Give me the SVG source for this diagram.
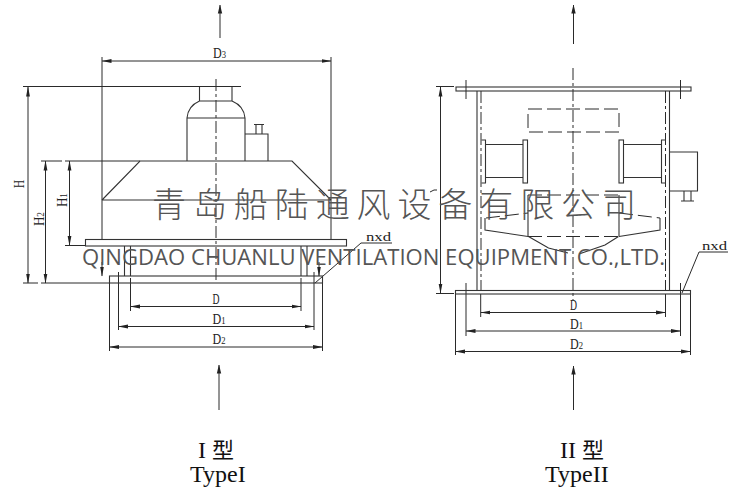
<svg xmlns="http://www.w3.org/2000/svg" width="743" height="498" viewBox="0 0 743 498">
<style>
.l{fill:none;stroke:#2a2a2a;stroke-width:1}
.t{fill:none;stroke:#333;stroke-width:1.1}
.d{fill:none;stroke:#2a2a2a;stroke-width:1;stroke-dasharray:12 3 3 3}
.da{fill:none;stroke:#2a2a2a;stroke-width:1;stroke-dasharray:14 5}
.s{font-family:"Liberation Serif",serif;font-size:14px;fill:#222}
.n{font-family:"Liberation Serif",serif;font-size:13px;fill:#222}
.c{font-family:"Liberation Serif","Noto Sans CJK SC",serif;font-size:24px;fill:#111}
.w{font-family:"Noto Sans CJK SC",sans-serif;font-size:34px;fill:#555;font-weight:300}
.e{font-family:"Open Sans",sans-serif;font-size:21px;fill:#555}
</style>
<defs>
<marker id="a" markerWidth="9" markerHeight="6" refX="8.5" refY="3" orient="auto-start-reverse" markerUnits="userSpaceOnUse"><path d="M0 .8L9 3L0 5.2Z" fill="#222"/></marker>
<marker id="b" markerWidth="10" markerHeight="7" refX="9.5" refY="3.5" orient="auto-start-reverse" markerUnits="userSpaceOnUse"><path d="M0 1.6L10 3.5L0 5.4Z" fill="#222"/></marker>
</defs>
<rect width="743" height="498" fill="#fff"/>
<g id="connectors">
<path class="l" marker-end="url(#a)" d="M220 38V5"/>
<path class="l" marker-end="url(#a)" d="M219 410V365"/>
<path class="l" marker-start="url(#b)" marker-end="url(#b)" d="M102 61H331"/>
<path class="l" d="M102 57V239M331 57V239"/>
<path class="l" d="M23 86.500H241"/>
<path class="l" d="M23 283H38M41 283H110"/>
<path class="l" marker-start="url(#b)" marker-end="url(#b)" d="M28 87V283"/>
<path class="l" marker-start="url(#b)" marker-end="url(#b)" d="M45.500 161V283"/>
<path class="l" d="M41 161H62M65 161H140"/>
<path class="l" marker-start="url(#b)" marker-end="url(#b)" d="M69.500 161V245.500"/>
<path class="l" d="M65 245.500H85"/>
<path class="l" marker-start="url(#b)" marker-end="url(#b)" d="M130.500 306.500H301"/>
<path class="l" marker-start="url(#b)" marker-end="url(#b)" d="M118.500 326.500H314"/>
<path class="l" marker-start="url(#b)" marker-end="url(#b)" d="M109.500 347H322.500"/>
<path class="l" d="M130.500 278V311M301 278V311M118.500 272V330M314 272V330M109.500 283V351M322.500 283V351"/>
<path class="l" marker-end="url(#b)" d="M102 262V276"/>
<path class="l" marker-end="url(#b)" d="M319 262V276"/>
<path class="l" d="M315 283L361 243H392"/>
<path class="l" marker-end="url(#a)" d="M573.500 44V5"/>
<path class="l" marker-end="url(#a)" d="M573.500 410V366"/>
<path class="l" d="M436 86.500H454M436 293.500H454"/>
<path class="l" marker-start="url(#b)" marker-end="url(#b)" d="M440.500 87V293"/>
<path class="l" marker-start="url(#b)" marker-end="url(#b)" d="M480.700 312.500H665.500"/>
<path class="l" marker-start="url(#b)" marker-end="url(#b)" d="M466 331H680.500"/>
<path class="l" marker-start="url(#b)" marker-end="url(#b)" d="M455.500 351.500H690.500"/>
<path class="l" d="M480.700 294V317M665.500 294V317M466 283V336M680.500 283V336M455.500 294V355M690.500 294V355"/>
<path class="l" d="M682 293L699 252H728"/>
<path class="l" d="M430 192L434 190H437"/>
</g>
<g id="type1">
<path class="d" d="M216 79V283"/>
<path class="t" d="M199.500 87V101H232V87M199.500 101Q188 106 187 118V161M232 101Q244 106 245 118V161M187 118H245"/>
<path class="t" d="M245 134H268V161M254 124.500H264M256 124.500V134M262 124.500V134"/>
<path class="t" d="M102 200L140 161H292L331 200M102 200H331"/>
<rect class="t" x="85.500" y="239.500" width="261" height="6.500"/>
<path class="t" d="M124.500 246V276M130.500 246V276M301 246V276M307 246V276"/>
<rect class="t" x="109.500" y="276" width="213" height="7"/>
</g>
<g id="type2">
<path class="d" d="M573 68V300"/>
<rect class="t" x="456" y="87" width="235" height="4"/>
<rect class="t" x="455.500" y="290.500" width="235" height="3.500"/>
<path class="l" d="M466 80V99M680.500 80V99"/>
<path class="t" d="M477 91V290M669.500 91V290"/>
<path class="d" d="M481 91V290M665.500 91V290"/>
<rect class="da" x="528" y="109" width="91" height="23"/>
<path class="t" d="M481.500 140H485.500V183H481.500M485.500 144.500H523M485.500 177.500H523"/>
<rect class="t" x="523" y="140" width="4.500" height="43"/>
<rect class="t" x="619" y="140" width="4.500" height="43"/>
<path class="t" d="M623.500 144.500H661M623.500 177.500H661M666 140H661.500V183H666"/>
<path class="t" d="M669.500 152H697.500V191H669.500M684 191V201M691 191V201M681 201H694"/>
<path class="da" d="M528 195H619"/>
<path class="t" d="M528 195V236M619 195V236"/>
<path class="da" d="M486 218L528 213M619 213L660 218"/>
<path class="t" d="M485 218V230L528 236.500M660 218V230L619 236.500"/>
<path class="da" d="M528 236.500H619"/>
<path class="t" d="M528.500 236.500L548.500 248L568 253M618.500 236.500L605 245L579 254"/>
</g>
<g id="labels">
<text class="s" x="213" y="58" textLength="13" lengthAdjust="spacingAndGlyphs">D<tspan font-size="10">3</tspan></text>
<text class="s" transform="translate(24 184) rotate(-90)" text-anchor="middle" textLength="8" lengthAdjust="spacingAndGlyphs">H</text>
<text class="s" transform="translate(44 219) rotate(-90)" text-anchor="middle" textLength="14" lengthAdjust="spacingAndGlyphs">H<tspan font-size="10">2</tspan></text>
<text class="s" transform="translate(67 200) rotate(-90)" text-anchor="middle" textLength="14" lengthAdjust="spacingAndGlyphs">H<tspan font-size="10">1</tspan></text>
<text class="s" x="212.500" y="304" textLength="7" lengthAdjust="spacingAndGlyphs">D</text>
<text class="s" x="212.500" y="324" textLength="13" lengthAdjust="spacingAndGlyphs">D<tspan font-size="10">1</tspan></text>
<text class="s" x="212.500" y="344" textLength="13" lengthAdjust="spacingAndGlyphs">D<tspan font-size="10">2</tspan></text>
<text class="n" x="366" y="241" textLength="25" lengthAdjust="spacingAndGlyphs">nxd</text>
<text class="s" x="570" y="310" textLength="7" lengthAdjust="spacingAndGlyphs">D</text>
<text class="s" x="570" y="329" textLength="13" lengthAdjust="spacingAndGlyphs">D<tspan font-size="10">1</tspan></text>
<text class="s" x="570" y="349" textLength="13" lengthAdjust="spacingAndGlyphs">D<tspan font-size="10">2</tspan></text>
<text class="n" x="702" y="250" textLength="25" lengthAdjust="spacingAndGlyphs">nxd</text>
<text class="c" x="198" y="458">I <tspan font-size="22">型</tspan></text>
<text class="c" x="190" y="482">TypeI</text>
<text class="c" x="560" y="458">II <tspan font-size="22">型</tspan></text>
<text class="c" x="545" y="482">TypeII</text>
<text class="w" x="152" y="217" textLength="484">青岛船陆通风设备有限公司</text>
<text class="e" x="82" y="265" textLength="583" lengthAdjust="spacingAndGlyphs">QINGDAO CHUANLU VENTILATION EQUIPMENT CO.,LTD.</text>
</g>
</svg>
